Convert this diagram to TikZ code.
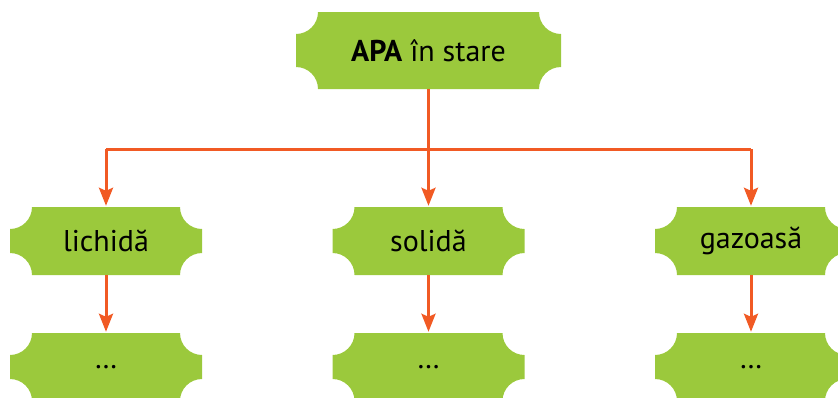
\documentclass[tikz,border=0pt]{standalone}
\usepackage{fontspec}
\setmainfont{PT Sans}
\usetikzlibrary{arrows.meta}

\definecolor{leafgreen}{RGB}{155,201,60}
\definecolor{flame}{RGB}{241,90,36}

\newlength{\scooprad}
\setlength{\scooprad}{22pt}

\tikzset{
  % rectangle whose four corners are cut by concave quarter circles
  scoopbox/.style 2 args={
    minimum width=#1, minimum height=#2, inner sep=0pt,
    font=\fontsize{30}{34}\selectfont, text=black,
    path picture={
      \fill[leafgreen]
        ([xshift=\scooprad]path picture bounding box.north west)
        -- ([xshift=-\scooprad]path picture bounding box.north east)
        arc[start angle=180, end angle=270, radius=\scooprad]
        -- ([yshift=\scooprad]path picture bounding box.south east)
        arc[start angle=90, end angle=180, radius=\scooprad]
        -- ([xshift=\scooprad]path picture bounding box.south west)
        arc[start angle=0, end angle=90, radius=\scooprad]
        -- ([yshift=-\scooprad]path picture bounding box.north west)
        arc[start angle=270, end angle=360, radius=\scooprad]
        -- cycle;
    }
  },
  link/.style={draw=flame, line width=3pt},
  arrowlink/.style={link, -{Stealth[length=18pt, width=14pt, inset=3pt]}, shorten >=1pt},
}

\begin{document}
\begin{tikzpicture}[x=1pt, y=1pt]
  \useasboundingbox (0,0) rectangle (838,-397);
  \clip (0,0) rectangle (838,-397);

  % boxes
  \node[scoopbox={265pt}{77pt}] (apa) at (428.5,-50.5) {\textbf{APA} în stare};

  \node[scoopbox={192pt}{68pt}] (lich) at (106,-241) {lichidă};
  \node[scoopbox={192pt}{68pt}] (sol)  at (428.5,-241) {solidă};
  \node[scoopbox={192pt}{68pt}] (gaz)  at (751,-241) {gazoasă};

  \node[scoopbox={192pt}{68pt}] (lichx) at (106,-367) {…};
  \node[scoopbox={192pt}{68pt}] (solx)  at (428.5,-367) {…};
  \node[scoopbox={192pt}{68pt}] (gazx)  at (751,-367) {…};

  % branching connectors
  \coordinate (bus) at (0,-149);
  \draw[link] (lich.north |- bus) -- (gaz.north |- bus);
  \draw[arrowlink] (apa.south) -- (sol.north);
  \draw[arrowlink] (lich.north |- bus) -- (lich.north);
  \draw[arrowlink] (gaz.north |- bus) -- (gaz.north);

  % second level
  \draw[arrowlink] (lich.south) -- (lichx.north);
  \draw[arrowlink] (sol.south) -- (solx.north);
  \draw[arrowlink] (gaz.south) -- (gazx.north);
\end{tikzpicture}
\end{document}
